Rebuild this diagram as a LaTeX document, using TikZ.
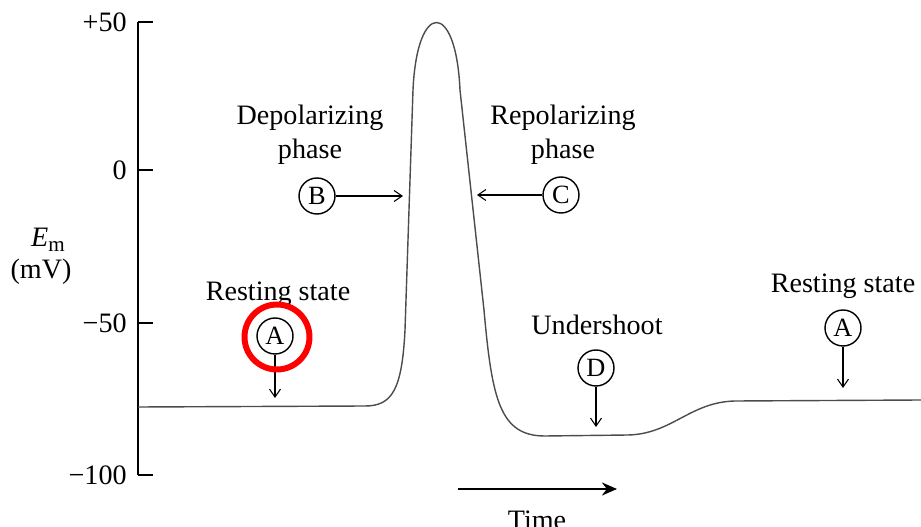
\documentclass[tikz,border=0pt]{standalone}
\usepackage{fontspec}
\setmainfont{Liberation Serif}
\usetikzlibrary{arrows.meta}

\begin{document}
\begin{tikzpicture}[x=0.02cm,y=-0.02cm]
\tikzset{
  phasenode/.style={circle,draw,line width=0.8pt,minimum size=7.2mm,inner sep=0pt,font=\fontsize{15}{17}\selectfont},
  caption/.style={align=center,inner sep=0pt,font=\fontsize{16}{19.3}\selectfont},
  ticklabel/.style={anchor=east,inner sep=0pt,font=\fontsize{16}{19}\selectfont},
  pointer/.style={-{Straight Barb[length=1.6mm,width=2.2mm]},line width=0.6pt},
  timearrow/.style={-{Stealth[length=3mm,width=2.6mm]},line width=1.3pt},
  trace/.style={line width=0.8pt,black!70},
  axis/.style={line width=0.8pt}
}
\clip (0,0) rectangle (921,527);
% voltage axis
\draw[axis] (138,22) -- (138,475);
\foreach \y/\lab in {22/+50,170/0,323/−50,475/−100}{
  \draw[axis] (138,\y) -- (153,\y);
  \node[ticklabel] (tick\y) at (127,\y) {\lab};
}
\node[caption] (n_Em) at (48,240) {\textit{E}\raisebox{-0.35ex}{\fontsize{12}{12}\selectfont m}};
\node[caption] (n_mV) at (41,272) {(mV)};
% membrane potential
\draw[trace] (138,407) -- (365,406)
  .. controls (392,406) and (402,390) .. (405,330) -- (413,90)
  .. controls (417,0) and (456,0) .. (460,90) -- (484,310)
  .. controls (492,400) and (500,436) .. (545,436) -- (628,435)
  .. controls (672,434) and (690,402) .. (735,401) -- (921,400);
% phase markers
\node[caption] (l_A1) at (278,294) {Resting state};
\node[phasenode] (n_A1) at (275,336) {A};
\node[caption] (l_B) at (310,135) {Depolarizing\\phase};
\node[phasenode] (n_B) at (317,196) {B};
\node[caption] (l_C) at (563,135) {Repolarizing\\phase};
\node[phasenode] (n_C) at (561,195) {C};
\node[caption] (l_D) at (597,325) {Undershoot};
\node[phasenode] (n_D) at (596,368) {D};
\node[caption] (l_A2) at (843,286) {Resting state};
\node[phasenode] (n_A2) at (843,328) {A};
\coordinate (p_A1) at (275,398);
\coordinate (p_B) at (403,196);
\coordinate (p_C) at (477,195);
\coordinate (p_D) at (596,427);
\coordinate (p_A2) at (843,388);
\draw[pointer] (n_A1) -- (p_A1);
\draw[pointer] (n_B) -- (p_B);
\draw[pointer] (n_C) -- (p_C);
\draw[pointer] (n_D) -- (p_D);
\draw[pointer] (n_A2) -- (p_A2);
% highlight ring
\node[circle,draw=red,line width=3.4pt,minimum size=1.3cm] (ring) at (277,337) {};
% time direction
\coordinate (t_start) at (458,489);
\coordinate (t_end) at (617,489);
\draw[timearrow] (t_start) -- (t_end);
\node[caption] (n_time) at (537,520) {Time};
\end{tikzpicture}
\end{document}
